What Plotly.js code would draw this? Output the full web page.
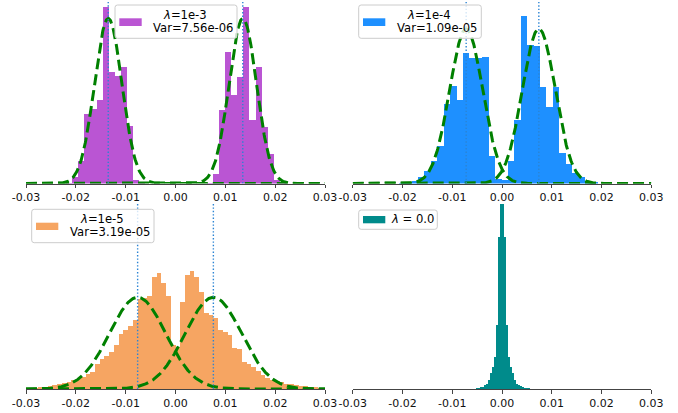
<!DOCTYPE html>
<html><head><meta charset="utf-8">
<script src="https://cdn.plot.ly/plotly-3.0.1.min.js"></script>
<style>html,body{margin:0;padding:0;background:#fff}#chart{width:678px;height:413px}</style>
</head><body><div id="chart"></div>
<script>
// ---------------- data ----------------
// Panel 1 : lambda = 1e-3
const p1BinStart = -0.02198, p1BinWidth = 0.001227;
const p1Heights = [0.7,6.7,22.7,70,75,84,176.7,111.7,107.3,116.7,57.3,3.3,0.7,
  0,0,0,0,0,0,0,0,0,0,
  0.7,10,73.3,131.7,89,106.7,176.7,64,116.7,56.7,30,3.3,0.7];
// Panel 2 : lambda = 1e-4
const p2BinStart = -0.02074, p2BinWidth = 0.00129;
const p2Heights = [0.7,1.3,2.3,6.7,12.3,22.3,37.3,80,98,84,130.7,125.7,125.7,126.7,27.3,4.7,
  3.3,22.3,63.3,167.3,138.3,137.3,96.7,76.7,96.3,30.7,20,10.7,6.7,2.3,1.3];
// Panel 3 : lambda = 1e-5
const p3BinStart = -0.0304, p3BinWidth = 0.00095;
const p3Heights = [0.5,0.8,1.2,1.7,2.3,3.2,4.5,5.5,6.5,7.5,9,10.5,12.5,15.5,17.5,25,30,33,37.3,44,
  55,59,63,69,89.7,91.3,93.3,111.7,115.7,105.7,93.3,44,42,
  87.3,114,118.3,112.3,96.7,75.7,74,70.7,59,56.7,54,40.7,40,27.3,25,22.3,18.3,14,11,9,8,7,5.5,5,4,3.5,3,2.5,2,1.3,0.7];
// Panel 4 : lambda = 0.0
const p4BinStart = -0.0064, p4BinWidth = 0.0004;
const p4Heights = [0.2,0.3,0.5,0.8,1.2,1.7,2.5,4,5,9,15.7,22.3,32.3,64,151.7,185.7,185,151.7,64,32.3,22.3,15.7,9,5,4,3,2,1.2,1.5,0.6,0.3];

const binStarts = [p1BinStart, p2BinStart, p3BinStart, p4BinStart];
const binWidths = [p1BinWidth, p2BinWidth, p3BinWidth, p4BinWidth];
const heights = [p1Heights, p2Heights, p3Heights, p4Heights];

// fitted normal components (mean of each mode, variance from legend, drawn peak height)
const gaussMeans = [[-0.0135, 0.0135], [-0.0072, 0.0074], [-0.0076, 0.0076], []];
const gaussVars = [7.56e-6, 1.09e-5, 3.19e-5, null];
const gaussPeaks = [165, 154.7, 91.7, null];

const lambdaLabels = ['<i>λ</i>=1e-3', '<i>λ</i>=1e-4', '<i>λ</i>=1e-5', '<i>λ</i> = 0.0'];
const varLabels = ['Var=7.56e-06', 'Var=1.09e-05', 'Var=3.19e-05', null];

const tickVals = [-0.03, -0.02, -0.01, 0, 0.01, 0.02, 0.03];
const tickText = ['-0.03', '-0.02', '-0.01', '0.00', '0.01', '0.02', '0.03'];

// ---------------- style / layout ----------------
const W = 678, H = 413;
const barColors = ['#BA55D3', '#1E90FF', '#F6A562', '#008B8B'];
const boxes = [ // pixel geometry of each axes
  {x0: 26, x1: 325, yAxis: 183.5, yTop: 0},
  {x0: 352.7, x1: 651.3, yAxis: 183.5, yTop: 0},
  {x0: 26, x1: 325, yAxis: 389, yTop: 204},
  {x0: 352.7, x1: 651.3, yAxis: 389, yTop: 204}
];
const legends = [
  {box: [115, 5, 237, 38.3], patch: [119.3, 18.3, 141.7, 26], l1: [185.3, 15], l2: [193.7, 27.7]},
  {box: [358.7, 5, 481.3, 38.3], patch: [363, 18.3, 385.3, 26], l1: [429.3, 15], l2: [437.2, 27.7]},
  {box: [31.7, 209.3, 154, 242.7], patch: [36, 222.7, 58.3, 230], l1: [102.2, 219], l2: [110.3, 231.7]},
  {box: [358.7, 210, 437.3, 229.3], patch: [363, 216, 385.3, 223.3], l1: [412.7, 219.3], l2: null}
];
const FONT = 'DejaVu Sans';
const px = x => x / W;
const py = y => 1 - y / H;

const traces = [];
const layout = {
  width: W, height: H, margin: {l: 0, r: 0, t: 0, b: 0},
  paper_bgcolor: '#fff', plot_bgcolor: 'rgba(0,0,0,0)',
  showlegend: false, bargap: 0, barmode: 'overlay',
  font: {family: FONT, size: 11, color: '#000'},
  shapes: [], annotations: []
};

for (let i = 0; i < 4; i++) {
  const xa = 'x' + (i ? i + 1 : ''), ya = 'y' + (i ? i + 1 : '');
  const b = boxes[i];
  const yMax = b.yAxis - b.yTop;
  const xs = heights[i].map((_, k) => binStarts[i] + (k + 0.5) * binWidths[i]);
  traces.push({type: 'bar', x: xs, y: heights[i], width: binWidths[i], xaxis: xa, yaxis: ya,
    marker: {color: barColors[i], line: {width: 0}}, hoverinfo: 'skip'});
  if (gaussVars[i] !== null) {
    const sd = Math.sqrt(gaussVars[i]);
    gaussMeans[i].forEach(m => {
      const gx = [], gy = [];
      for (let s = 0; s <= 600; s++) {
        const x = -0.03 + s * 0.0001;
        gx.push(x);
        gy.push(gaussPeaks[i] * Math.exp(-0.5 * ((x - m) / sd) ** 2));
      }
      traces.push({type: 'scatter', mode: 'lines', x: gx, y: gy, xaxis: xa, yaxis: ya,
        cliponaxis: false, line: {color: '#008000', width: 3, dash: '11px,5px'}, hoverinfo: 'skip'});
    });
    gaussMeans[i].forEach(m => {
      traces.push({type: 'scatter', mode: 'lines', x: [m, m], y: [0, yMax], xaxis: xa, yaxis: ya,
        cliponaxis: false, line: {color: '#2b84d4', width: 1.4, dash: '1.4px,2px'}, hoverinfo: 'skip'});
    });
  }
  layout['xaxis' + (i ? i + 1 : '')] = {
    domain: [px(b.x0), px(b.x1)], range: [-0.03, 0.03], anchor: ya,
    showgrid: false, zeroline: false, showline: true, linecolor: '#444', linewidth: 1,
    ticks: 'outside', ticklen: 3.5, tickwidth: 1, tickcolor: '#444',
    tickvals: tickVals, ticktext: tickText, tickfont: {family: FONT, size: 11, color: '#111'}
  };
  layout['yaxis' + (i ? i + 1 : '')] = {
    domain: [py(b.yAxis), py(b.yTop)], range: [0, yMax], anchor: xa, visible: false
  };

  // legend box (rounded) + patch + text
  const L = legends[i];
  const [bx0, by0, bx1, by1] = L.box, r = 2.5;
  const path = `M ${px(bx0 + r)},${py(by0)} L ${px(bx1 - r)},${py(by0)} Q ${px(bx1)},${py(by0)} ${px(bx1)},${py(by0 + r)} ` +
    `L ${px(bx1)},${py(by1 - r)} Q ${px(bx1)},${py(by1)} ${px(bx1 - r)},${py(by1)} L ${px(bx0 + r)},${py(by1)} ` +
    `Q ${px(bx0)},${py(by1)} ${px(bx0)},${py(by1 - r)} L ${px(bx0)},${py(by0 + r)} Q ${px(bx0)},${py(by0)} ${px(bx0 + r)},${py(by0)} Z`;
  layout.shapes.push({type: 'path', xref: 'paper', yref: 'paper', path: path, layer: 'above',
    fillcolor: 'rgba(255,255,255,0.8)', line: {color: '#cccccc', width: 1}});
  layout.shapes.push({type: 'rect', xref: 'paper', yref: 'paper', layer: 'above',
    x0: px(L.patch[0]), x1: px(L.patch[2]), y0: py(L.patch[1]), y1: py(L.patch[3]),
    fillcolor: barColors[i], line: {width: 0}});
  layout.annotations.push({xref: 'paper', yref: 'paper', x: px(L.l1[0]), y: py(L.l1[1]),
    xanchor: 'center', yanchor: 'middle', showarrow: false, text: lambdaLabels[i],
    font: {family: FONT, size: 11.6, color: '#000'}});
  if (L.l2) layout.annotations.push({xref: 'paper', yref: 'paper', x: px(L.l2[0]), y: py(L.l2[1]),
    xanchor: 'center', yanchor: 'middle', showarrow: false, text: varLabels[i],
    font: {family: FONT, size: 11.6, color: '#000'}});
}

Plotly.newPlot('chart', traces, layout, {staticPlot: true, displayModeBar: false});
</script></body></html>
